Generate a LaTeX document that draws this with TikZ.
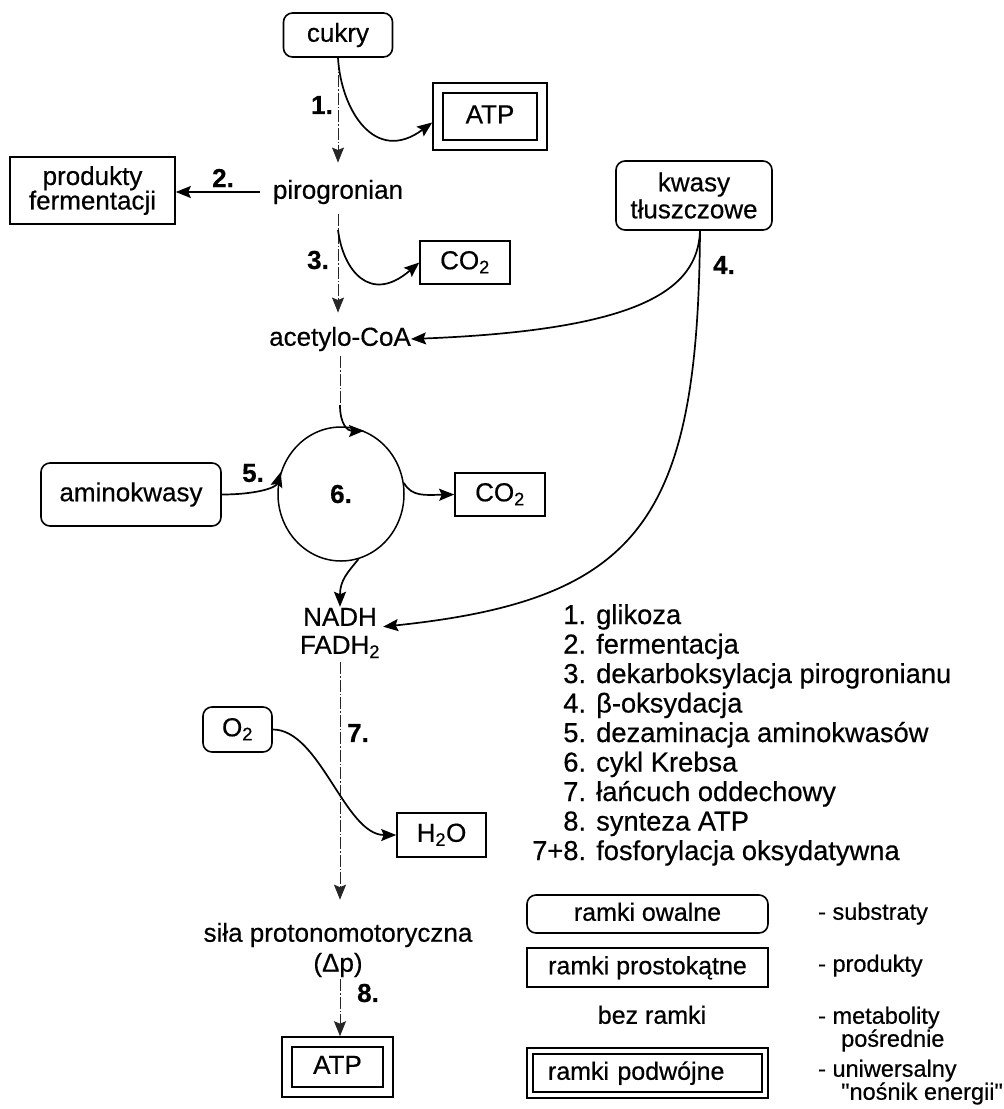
\documentclass[tikz,border=0pt]{standalone}
\usepackage{fontspec}
\setmainfont{Liberation Sans}[Ligatures=TeXOff, FakeBold=0.5]
\usetikzlibrary{arrows.meta,shapes.geometric}
\begin{document}
\begin{tikzpicture}[x=1pt,y=1pt,
  every node/.style={inner sep=0pt, font=\fontsize{26}{27}\selectfont},
  lbl/.style={text height=19pt, text depth=5.5pt},
  sub/.style={draw, line width=1.6pt, rounded corners=9pt},
  prod/.style={draw, line width=1.6pt},
  dblbox/.style={draw, line width=1.6pt,
    path picture={\draw[line width=1.5pt]
      ([shift={(#1,-#1)}]path picture bounding box.north west) rectangle
      ([shift={(-#1,#1)}]path picture bounding box.south east);}},
  arr/.style={-{Stealth[length=15pt,width=12pt,inset=2.5pt]}},
  flow/.style={line width=1.7pt, arr},
  trunk/.style={line width=0.8pt, black!85, dash pattern=on 12pt off 2pt on 1.5pt off 2pt},
  num/.style={font=\fontsize{26}{27}\selectfont\bfseries},
  keyfont/.style={font=\fontsize{25}{26}\selectfont},
  keyside/.style={anchor=west, lbl, font=\fontsize{23.5}{24}\selectfont}
]
\useasboundingbox (0,0) rectangle (1004,-1109);
\fill[white] (0,0) rectangle (1004,-1109);

% --- main pathway ---
\node[sub, minimum width=109pt, minimum height=44pt, lbl] (cukry) at (338,-35) {cukry};
\node[dblbox=10, minimum width=114pt, minimum height=67pt, lbl] (atp1) at (490,-116.5) {ATP};
\node[lbl] (piro) at (338,-192) {pirogronian};
\node[prod, minimum width=165pt, minimum height=67pt, align=center,
      font=\fontsize{26}{24.5}\selectfont] (ferm) at (92.5,-190.5) {produkty\\fermentacji};
\node[sub, minimum width=156pt, minimum height=69pt, align=center] (fatty) at (694,-195.5) {kwasy\\tłuszczowe};
\node[prod, minimum width=90pt, minimum height=43pt, lbl] (co2a) at (465,-262.5) {CO\textsubscript{2}};
\node[lbl] (acetyl) at (340,-339) {acetylo-CoA};
\node[draw, ellipse, line width=1.5pt, minimum width=126pt, minimum height=134pt,
      font=\fontsize{26}{27}\selectfont\bfseries] (krebs) at (341,-494) {6.};
\node[sub, minimum width=180pt, minimum height=63pt, lbl] (amino) at (131,-494.5) {aminokwasy};
\node[prod, minimum width=90pt, minimum height=43pt, lbl] (co2b) at (500,-494.5) {CO\textsubscript{2}};
\node[align=center, font=\fontsize{26}{28}\selectfont] (nadh) at (340,-633) {NADH\\FADH\textsubscript{2}};
\node[sub, minimum width=69pt, minimum height=45pt, lbl] (o2) at (237.5,-729.5) {O\textsubscript{2}};
\node[prod, minimum width=89pt, minimum height=44pt, lbl] (h2o) at (441.5,-835) {H\textsubscript{2}O};
\node[align=center, font=\fontsize{26}{30}\selectfont] (pmf) at (338,-950) {siła protonomotoryczna\\(Δp)};
\node[dblbox=10, minimum width=111pt, minimum height=60pt, lbl] (atp2) at (337.5,-1067) {ATP};

% step numbers
\node[num] (n1) at (322,-105) {1.};
\node[num] (n2) at (223,-178) {2.};
\node[num] (n3) at (318,-260) {3.};
\node[num] (n4) at (724,-265) {4.};
\node[num] (n5) at (253,-473) {5.};
\node[num] (n7) at (358,-733) {7.};
\node[num] (n8) at (368,-993) {8.};

% --- connectors ---
\draw[trunk, arr, shorten >=17pt] (cukry.south) -- (cukry.south |- piro.north);
\draw[flow] (cukry.south) .. controls (341,-110) and (375,-165) .. ([yshift=-6pt]atp1.west);
\draw[flow, shorten <=13pt] (piro.west) -- (piro.west -| ferm.east);
\draw[trunk, arr, shorten <=10pt, shorten >=14pt] (piro.south -| cukry.south) -- (acetyl.north -| cukry.south);
\coordinate (b3) at (338,-230);
\draw[flow] (b3) .. controls (343,-270) and (370,-305) .. (co2a.west);
\draw[flow] ([xshift=6pt]fatty.south) .. controls (698,-290) and (640,-330) .. (acetyl.east);
\draw[flow, shorten >=3pt] ([xshift=6pt]fatty.south) .. controls (698,-520) and (640,-600) .. ([yshift=6pt]nadh.east);
\coordinate (k0) at (340,-405);
\draw[trunk, shorten <=5pt] (acetyl.south) -- (k0);
\draw[flow] (k0) .. controls (340,-425) and (348,-431) .. (krebs.70);
\draw[flow] (amino.east) .. controls (255,-494.5) and (276,-488) .. (krebs.160);
\draw[flow] (krebs.10) .. controls (412,-497) and (425,-495) .. (co2b.west);
\draw[flow, shorten >=1pt] (krebs.-75) .. controls (348,-572) and (340,-580) .. (nadh.north);
\draw[trunk, arr, shorten <=4pt, shorten >=23pt] (nadh.south) -- (nadh.south |- pmf.north);
\draw[flow] (o2.east) .. controls (320,-729.5) and (345,-835) .. (h2o.west);
\draw[trunk, arr, shorten <=2pt] (pmf.south -| nadh.south) -- (atp2.north -| nadh.south);

% --- list of processes ---
\node[anchor=base west, font=\fontsize{27.3}{29.5}\selectfont] (steps) at (532,-624) {%
  \begin{tabular}[t]{@{}r@{ }l@{}}
  1. & glikoza\\
  2. & fermentacja\\
  3. & dekarboksylacja pirogronianu\\
  4. & β-oksydacja\\
  5. & dezaminacja aminokwasów\\
  6. & cykl Krebsa\\
  7. & łańcuch oddechowy\\
  8. & synteza ATP\\
  7+8. & fosforylacja oksydatywna
  \end{tabular}};

% --- frame key ---
\node[sub, keyfont, lbl, minimum width=241pt, minimum height=38pt] (kowal) at (647.5,-914) {ramki owalne};
\node[prod, keyfont, lbl, minimum width=241pt, minimum height=39pt] (kprost) at (647.5,-967.5) {ramki prostokątne};
\node[keyfont, lbl] (kbez) at (652,-1017) {bez ramki};
\node[dblbox=6, keyfont, lbl, text width=199pt, align=left, inner xsep=21pt, minimum height=50pt] (kpodw) at (647.5,-1073) {ramki podwójne};

\node[keyside] (ksub) at (818,-913) {- substraty};
\node[keyside] (kprod) at (818,-965) {- produkty};
\node[keyside] (kmet) at (818,-1017) {- metabolity};
\node[keyside] (kmet2) at (841,-1040) {pośrednie};
\node[keyside] (kuni) at (818,-1070) {- uniwersalny};
\node[keyside] (kuni2) at (841,-1093) {"nośnik energii"};
\end{tikzpicture}
\end{document}
